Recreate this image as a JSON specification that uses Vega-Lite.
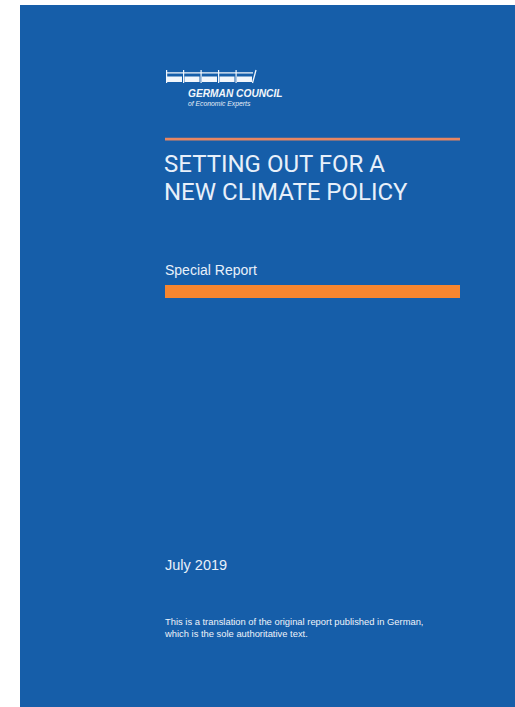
{
  "$schema": "https://vega.github.io/schema/vega-lite/v6.json",
  "width": 515,
  "height": 707,
  "padding": 0,
  "autosize": {"type": "none"},
  "background": "#ffffff",
  "config": {"view": {"stroke": null}},
  "encoding": {
    "x": {"field": "x", "type": "quantitative", "scale": {"domain": [0, 515], "nice": false, "zero": false}, "axis": null},
    "y": {"field": "y", "type": "quantitative", "scale": {"domain": [0, 707], "nice": false, "zero": false, "reverse": true}, "axis": null}
  },
  "layer": [
    {
      "data": {"values": [{"x": 20, "x2": 515, "y": 5, "y2": 707}]},
      "mark": {"type": "rect", "color": "#165EA9"},
      "encoding": {"x2": {"field": "x2"}, "y2": {"field": "y2"}}
    },
    {
      "data": {"values": [{"x": 165, "x2": 460, "y": 137.8, "y2": 140.4}]},
      "mark": {"type": "rect", "color": "#E88662"},
      "encoding": {"x2": {"field": "x2"}, "y2": {"field": "y2"}}
    },
    {
      "data": {"values": [{"x": 165, "x2": 460, "y": 285, "y2": 298}]},
      "mark": {"type": "rect", "color": "#F7862F"},
      "encoding": {"x2": {"field": "x2"}, "y2": {"field": "y2"}}
    },
    {
      "data": {"values": [
        {"x": 167, "x2": 253, "y": 72.3, "y2": 73.6},
        {"x": 167, "x2": 182, "y": 76.5, "y2": 82},
        {"x": 184.5, "x2": 199.5, "y": 76.5, "y2": 82},
        {"x": 202, "x2": 217, "y": 76.5, "y2": 82},
        {"x": 219.5, "x2": 234.5, "y": 76.5, "y2": 82},
        {"x": 237, "x2": 252, "y": 76.5, "y2": 82},
        {"x": 166, "x2": 167.2, "y": 70, "y2": 83},
        {"x": 183, "x2": 184.2, "y": 70, "y2": 83},
        {"x": 200.5, "x2": 201.7, "y": 70, "y2": 83},
        {"x": 218, "x2": 219.2, "y": 70, "y2": 83},
        {"x": 235.5, "x2": 236.7, "y": 70, "y2": 83}
      ]},
      "mark": {"type": "rect", "color": "#F2F6FB"},
      "encoding": {"x2": {"field": "x2"}, "y2": {"field": "y2"}}
    },
    {
      "data": {"values": [{"x": 252.5, "x2": 256, "y": 83, "y2": 70}]},
      "mark": {"type": "rule", "color": "#F2F6FB", "strokeWidth": 1.3},
      "encoding": {"x2": {"field": "x2"}, "y2": {"field": "y2"}}
    },
    {
      "data": {"values": [{"x": 188, "y": 96.5, "label": "GERMAN COUNCIL"}]},
      "mark": {"type": "text", "align": "left", "baseline": "alphabetic", "font": "Liberation Sans", "fontSize": 10.2, "fontWeight": "bold", "fontStyle": "italic", "color": "#F2F6FB"},
      "encoding": {"text": {"field": "label"}}
    },
    {
      "data": {"values": [{"x": 188, "y": 105.5, "label": "of Economic Experts"}]},
      "mark": {"type": "text", "align": "left", "baseline": "alphabetic", "font": "Liberation Sans", "fontSize": 6.8, "fontStyle": "italic", "color": "#E6EEF8"},
      "encoding": {"text": {"field": "label"}}
    },
    {
      "data": {"values": [
        {"x": 164, "y": 172, "label": "SETTING OUT FOR A"},
        {"x": 164, "y": 199.5, "label": "NEW CLIMATE POLICY"}
      ]},
      "mark": {"type": "text", "align": "left", "baseline": "alphabetic", "font": "Roboto", "fontSize": 24, "color": "#E8F0FA"},
      "encoding": {"text": {"field": "label"}}
    },
    {
      "data": {"values": [{"x": 165, "y": 275, "label": "Special Report"}]},
      "mark": {"type": "text", "align": "left", "baseline": "alphabetic", "font": "Liberation Sans", "fontSize": 14, "color": "#E8F0FA"},
      "encoding": {"text": {"field": "label"}}
    },
    {
      "data": {"values": [{"x": 165, "y": 570, "label": "July 2019"}]},
      "mark": {"type": "text", "align": "left", "baseline": "alphabetic", "font": "Liberation Sans", "fontSize": 14.5, "color": "#E8F0FA"},
      "encoding": {"text": {"field": "label"}}
    },
    {
      "data": {"values": [
        {"x": 165, "y": 624.5, "label": "This is a translation of the original report published in German,"},
        {"x": 165, "y": 636.5, "label": "which is the sole authoritative text."}
      ]},
      "mark": {"type": "text", "align": "left", "baseline": "alphabetic", "font": "Liberation Sans", "fontSize": 9.4, "color": "#EEF3FA"},
      "encoding": {"text": {"field": "label"}}
    }
  ]
}
